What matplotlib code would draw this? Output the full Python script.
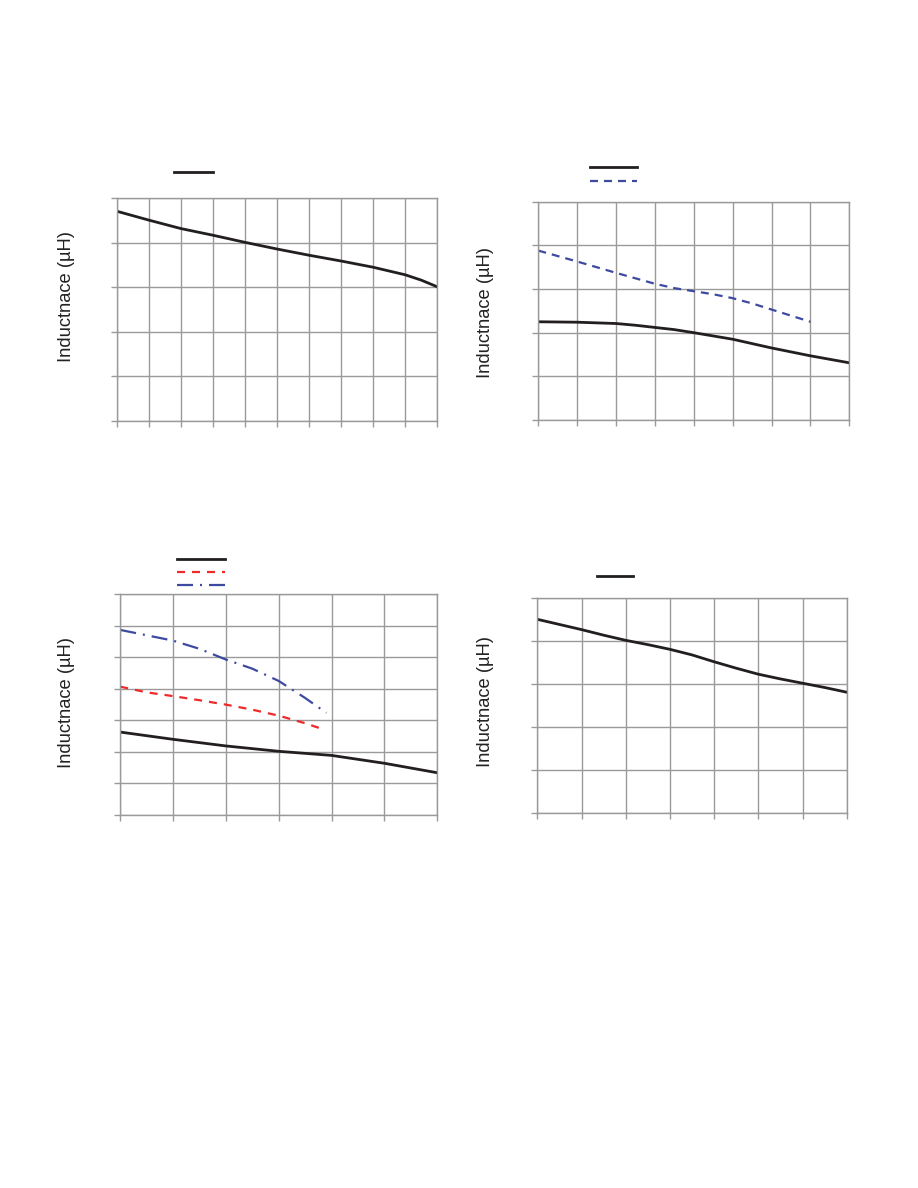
import matplotlib
matplotlib.use("Agg")
import matplotlib.pyplot as plt

plt.rcParams['font.family'] = ['Liberation Sans', 'DejaVu Sans']

W, H = 918, 1188
DPI = 100

# ---------------- data (grid units; tick labels are not shown in the reference) ----------------
# Panel A (top-left)
a_x = [0, 1, 2, 3, 4, 5, 6, 7, 8, 9, 9.5, 10]
a_y = [4.71, 4.51, 4.32, 4.17, 4.01, 3.86, 3.72, 3.59, 3.45, 3.28, 3.16, 3.01]

# Panel B (top-right)
b_x_solid = [0, 1, 2, 2.5, 3, 3.5, 4, 5, 6, 7, 8]
b_y_solid = [2.25, 2.24, 2.21, 2.17, 2.12, 2.07, 2.00, 1.85, 1.65, 1.47, 1.31]
b_x_dash = [0, 1, 2, 3, 3.5, 4, 4.5, 5, 5.5, 6, 6.5, 7]
b_y_dash = [3.88, 3.63, 3.37, 3.12, 3.02, 2.95, 2.88, 2.79, 2.67, 2.53, 2.39, 2.25]

# Panel C (bottom-left)
c_x_solid = [0, 1, 2, 3, 4, 5, 6]
c_y_solid = [2.63, 2.40, 2.19, 2.02, 1.89, 1.64, 1.34]
c_x_red = [0, 0.5, 1.0, 1.5, 2.0, 2.5, 3.0, 3.5, 3.87]
c_y_red = [4.07, 3.89, 3.77, 3.64, 3.50, 3.34, 3.15, 2.91, 2.70]
c_x_blue = [0, 0.5, 1.0, 1.5, 2.0, 2.5, 3.0, 3.5, 3.9]
c_y_blue = [5.87, 5.70, 5.53, 5.27, 4.93, 4.64, 4.25, 3.71, 3.24]

# Panel D (bottom-right)
d_x = [0, 0.5, 1, 1.5, 2, 2.5, 3, 3.5, 4, 4.5, 5, 5.5, 6, 6.5, 7]
d_y = [4.51, 4.39, 4.27, 4.14, 4.02, 3.92, 3.81, 3.68, 3.52, 3.37, 3.23, 3.12, 3.02, 2.92, 2.81]

YLABEL = "Inductnace (\u00b5H)"
GRID = "#9a9a9a"
BLACK = "#231f20"
BLUE = "#3d4aa0"
RED = "#ee2a2a"

fig = plt.figure(figsize=(W / DPI, H / DPI), dpi=DPI)


def px_axes(left, top, right, bottom):
    return fig.add_axes([left / W, 1 - bottom / H, (right - left) / W, (bottom - top) / H])


def style(ax, nx, ny):
    ax.set_xlim(0, nx)
    ax.set_ylim(0, ny)
    ax.set_xticks(range(nx + 1))
    ax.set_yticks(range(ny + 1))
    ax.set_xticklabels([])
    ax.set_yticklabels([])
    ax.grid(True, color=GRID, linewidth=1.0)
    ax.tick_params(direction='out', length=4, width=1.0, color=GRID)
    for s in ax.spines.values():
        s.set_color(GRID)
        s.set_linewidth(1.0)
    ax.set_axisbelow(True)


def dash(on_px, off_px, lw):
    return (0, (on_px * 0.72 / lw, off_px * 0.72 / lw))


def add_legend(ax, handles, x_left, y_top, length_px, spacing_px):
    fs = 8
    fs_px = fs * DPI / 72
    leg = ax.legend(handles, [" "] * len(handles), loc='upper left',
                    bbox_to_anchor=(x_left / W, 1 - y_top / H), bbox_transform=fig.transFigure,
                    frameon=False, fontsize=fs, borderpad=0, borderaxespad=0,
                    handlelength=length_px / fs_px, handletextpad=0.1,
                    labelspacing=max(spacing_px / fs_px - 1.0, 0.0))
    return leg


LW = 2.0
LWD = 1.6

# ---- Panel A ----
axA = px_axes(116.7, 198.3, 437.3, 420.7)
style(axA, 10, 5)
lA, = axA.plot(a_x, a_y, color=BLACK, lw=LW, solid_joinstyle='round')

# ---- Panel B ----
axB = px_axes(538.3, 201.7, 849.3, 420.0)
style(axB, 8, 5)
lB1, = axB.plot(b_x_solid, b_y_solid, color=BLACK, lw=LW, solid_joinstyle='round')
lB2, = axB.plot(b_x_dash, b_y_dash, color=BLUE, lw=LWD, linestyle=dash(8, 6, LWD))

# ---- Panel C ----
axC = px_axes(120.3, 594.3, 437.3, 815.0)
style(axC, 6, 7)
lC1, = axC.plot(c_x_solid, c_y_solid, color=BLACK, lw=LW, solid_joinstyle='round')
lC2, = axC.plot(c_x_red, c_y_red, color=RED, lw=LWD, linestyle=dash(8, 7, LWD))
lC3, = axC.plot(c_x_blue, c_y_blue, color=BLUE, lw=LWD,
                linestyle=(0, tuple(v * 0.72 / LWD for v in (16, 7, 2, 7))))

# ---- Panel D ----
axD = px_axes(537.3, 598.3, 846.7, 812.7)
style(axD, 7, 5)
lD, = axD.plot(d_x, d_y, color=BLACK, lw=LW, solid_joinstyle='round')

for ax in (axA, axB, axC, axD):
    ax.set_ylabel(YLABEL, fontsize=13.2, color='#222222')

# y-label positions (figure pixels)
for ax, xpx, ypx in ((axA, 75, 297), (axB, 494, 312), (axC, 75, 703), (axD, 494, 701.5)):
    ax.yaxis.set_label_coords(xpx / W, 1 - ypx / H, transform=fig.transFigure)

add_legend(axA, [lA], 174, 167.5, 39, 14.0)
add_legend(axB, [lB1, lB2], 590, 163.3, 47, 14.7)
add_legend(axC, [lC1, lC2, lC3], 177.3, 555, 48, 14.0)
add_legend(axD, [lD], 597, 571.5, 36, 14.0)

fig.savefig("out.png", dpi=DPI)
